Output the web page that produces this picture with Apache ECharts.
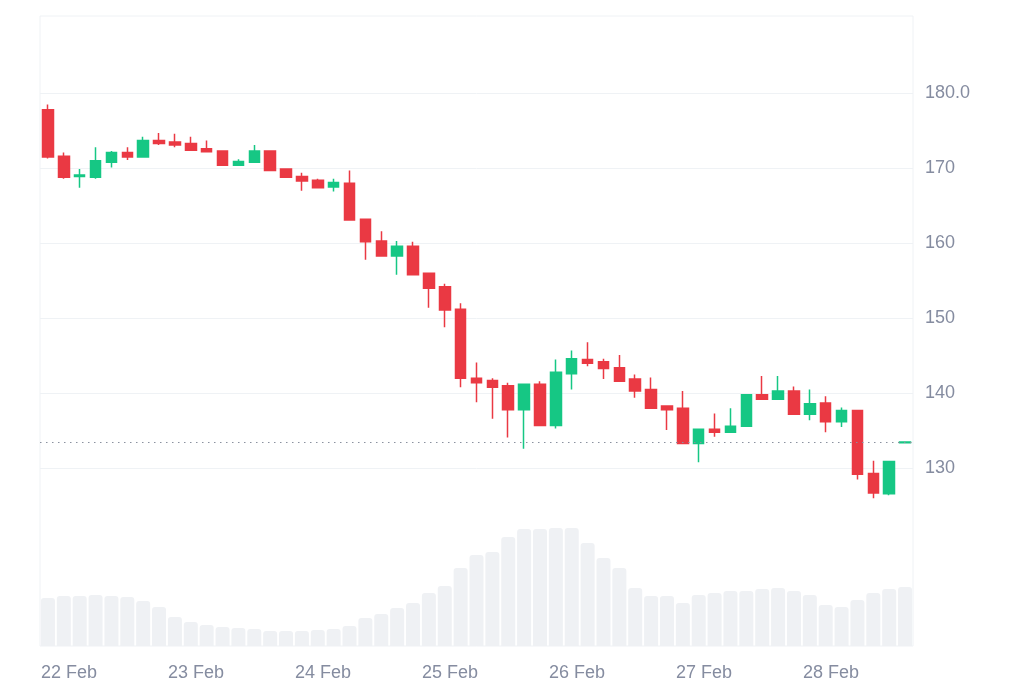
<!DOCTYPE html>
<html>
<head>
<meta charset="utf-8">
<script src="https://cdn.jsdelivr.net/npm/echarts@6/dist/echarts.min.js"></script>
<style>
  html, body { margin: 0; padding: 0; background: #fff; }
  #chart { width: 1024px; height: 683px; }
</style>
</head>
<body>
<div id="chart"></div>
<script>
// x positions in hours from 22 Feb 00:00, one 3h candle each
const candleTimes = Array.from({ length: 55 }, (_, i) => -4 + 3 * i)

const dayTicks = [0, 24, 48, 72, 96, 120, 144]
const dayLabels = ['22 Feb', '23 Feb', '24 Feb', '25 Feb', '26 Feb', '27 Feb', '28 Feb']

const priceTicks = [130, 140, 150, 160, 170, 180]
const priceLabels = ['130', '140', '150', '160', '170', '180.0']

const opens = [
  177.8, 171.6, 168.9, 168.8, 170.8, 172.1, 171.5, 173.7, 173.5, 173.3,
  172.6, 172.3, 170.4, 170.8, 172.3, 169.9, 168.9, 168.4, 167.5, 168.0,
  163.2, 160.3, 158.3, 159.6, 156.0, 154.2, 151.2, 142.0, 141.7, 141.0,
  137.8, 141.2, 135.7, 142.6, 144.5, 144.2, 143.4, 141.9, 140.5, 138.3,
  138.0, 133.3, 135.2, 134.8, 135.6, 139.8, 139.2, 140.3, 137.2, 138.7,
  136.2, 137.7, 129.3, 126.6, 133.4
]
const closes = [
  171.5, 168.8, 169.1, 171.0, 172.1, 171.5, 173.7, 173.3, 173.1, 172.4,
  172.2, 170.4, 170.9, 172.3, 169.7, 168.8, 168.3, 167.4, 168.1, 163.1,
  160.2, 158.3, 159.6, 155.8, 154.0, 151.1, 142.0, 141.4, 140.8, 137.8,
  141.2, 135.7, 142.8, 144.6, 144.0, 143.3, 141.6, 140.3, 138.0, 137.8,
  133.3, 135.2, 134.8, 135.6, 139.8, 139.2, 140.3, 137.2, 138.6, 136.2,
  137.7, 129.2, 126.7, 130.9, 133.5
]
const lows = [
  171.3, 168.6, 167.4, 168.6, 170.1, 171.1, 171.5, 173.1, 172.8, 172.3,
  172.2, 170.4, 170.4, 170.8, 169.7, 168.8, 167.0, 167.4, 166.9, 163.1,
  157.8, 158.3, 155.8, 155.8, 151.4, 148.8, 140.8, 138.8, 136.6, 134.1,
  132.6, 135.7, 135.3, 140.5, 143.6, 141.9, 141.6, 139.4, 138.0, 135.1,
  133.3, 130.8, 134.2, 134.8, 135.6, 139.2, 139.2, 137.2, 136.4, 134.8,
  135.5, 128.5, 126.0, 126.4, 133.4
]
const highs = [
  178.5, 172.1, 169.9, 172.8, 172.3, 172.8, 174.2, 174.7, 174.6, 174.2,
  173.7, 172.3, 171.2, 173.1, 172.3, 169.9, 169.4, 168.6, 168.6, 169.7,
  163.2, 161.6, 160.3, 160.2, 156.0, 154.6, 152.0, 144.1, 142.0, 141.4,
  141.2, 141.6, 144.5, 145.7, 146.8, 144.6, 145.1, 142.5, 142.1, 138.3,
  140.3, 135.2, 137.3, 138.0, 139.8, 142.3, 142.3, 140.9, 140.5, 139.6,
  138.1, 137.7, 131.0, 130.9, 133.6
]
const volumes = [
  48, 50, 50, 51, 50, 49, 45, 39, 29, 24,
  21, 19, 18, 17, 15, 15, 15, 16, 17, 20,
  28, 32, 38, 43, 53, 60, 78, 91, 94, 109,
  117, 117, 118, 118, 103, 88, 78, 58, 50, 50,
  43, 51, 53, 55, 55, 57, 58, 55, 51, 41,
  39, 46, 53, 57, 59
]
const lastPrice = 133.5

const candleData = candleTimes.map((t, i) => [t, opens[i], closes[i], lows[i], highs[i]])
const volumeData = candleTimes.map((t, i) => [t, volumes[i]])

const chart = echarts.init(document.getElementById('chart'))

const option = {
  animation: false,
  textStyle: { fontFamily: 'Liberation Sans, Arial, sans-serif' },
  grid: {
    left: 40, right: 111, top: 16, bottom: 37,
    show: true, borderColor: '#eff2f5', borderWidth: 1
  },
  xAxis: {
    type: 'value',
    min: -5.5,
    max: 159.5,
    axisLine: { show: false },
    axisTick: { show: false },
    splitLine: { show: false },
    axisLabel: {
      customValues: dayTicks,
      formatter: (v) => dayLabels[dayTicks.indexOf(v)],
      color: '#858ca0',
      fontSize: 18,
      margin: 18
    }
  },
  yAxis: [{
    type: 'value',
    position: 'right',
    min: 106.3,
    max: 190.3,
    axisLine: { show: false },
    axisTick: { show: false, customValues: priceTicks },
    splitLine: { show: true, customValues: priceTicks, lineStyle: { color: '#eff2f5', width: 1 } },
    axisLabel: {
      customValues: priceTicks,
      formatter: (v) => priceLabels[priceTicks.indexOf(v)],
      color: '#858ca0',
      fontSize: 18,
      margin: 12
    }
  }, {
    type: 'value',
    min: 0,
    max: 630,
    show: false,
    splitLine: { show: false }
  }],
  series: [{
    type: 'bar',
    yAxisIndex: 1,
    data: volumeData,
    barWidth: 14,
    itemStyle: { color: '#eff1f4', borderRadius: [3, 3, 0, 0] },
    z: 1
  }, {
    type: 'candlestick',
    data: candleData,
    barWidth: 11,
    itemStyle: {
      color: '#16c784',
      color0: '#ea3943',
      borderColor: '#16c784',
      borderColor0: '#ea3943',
      borderWidth: 1.5
    },
    markLine: {
      silent: true,
      symbol: 'none',
      label: { show: false },
      lineStyle: { color: '#8a919f', type: [1.5, 4.5], width: 1 },
      data: [{ yAxis: lastPrice }]
    },
    z: 3
  }]
}

chart.setOption(option)
</script>
</body>
</html>
